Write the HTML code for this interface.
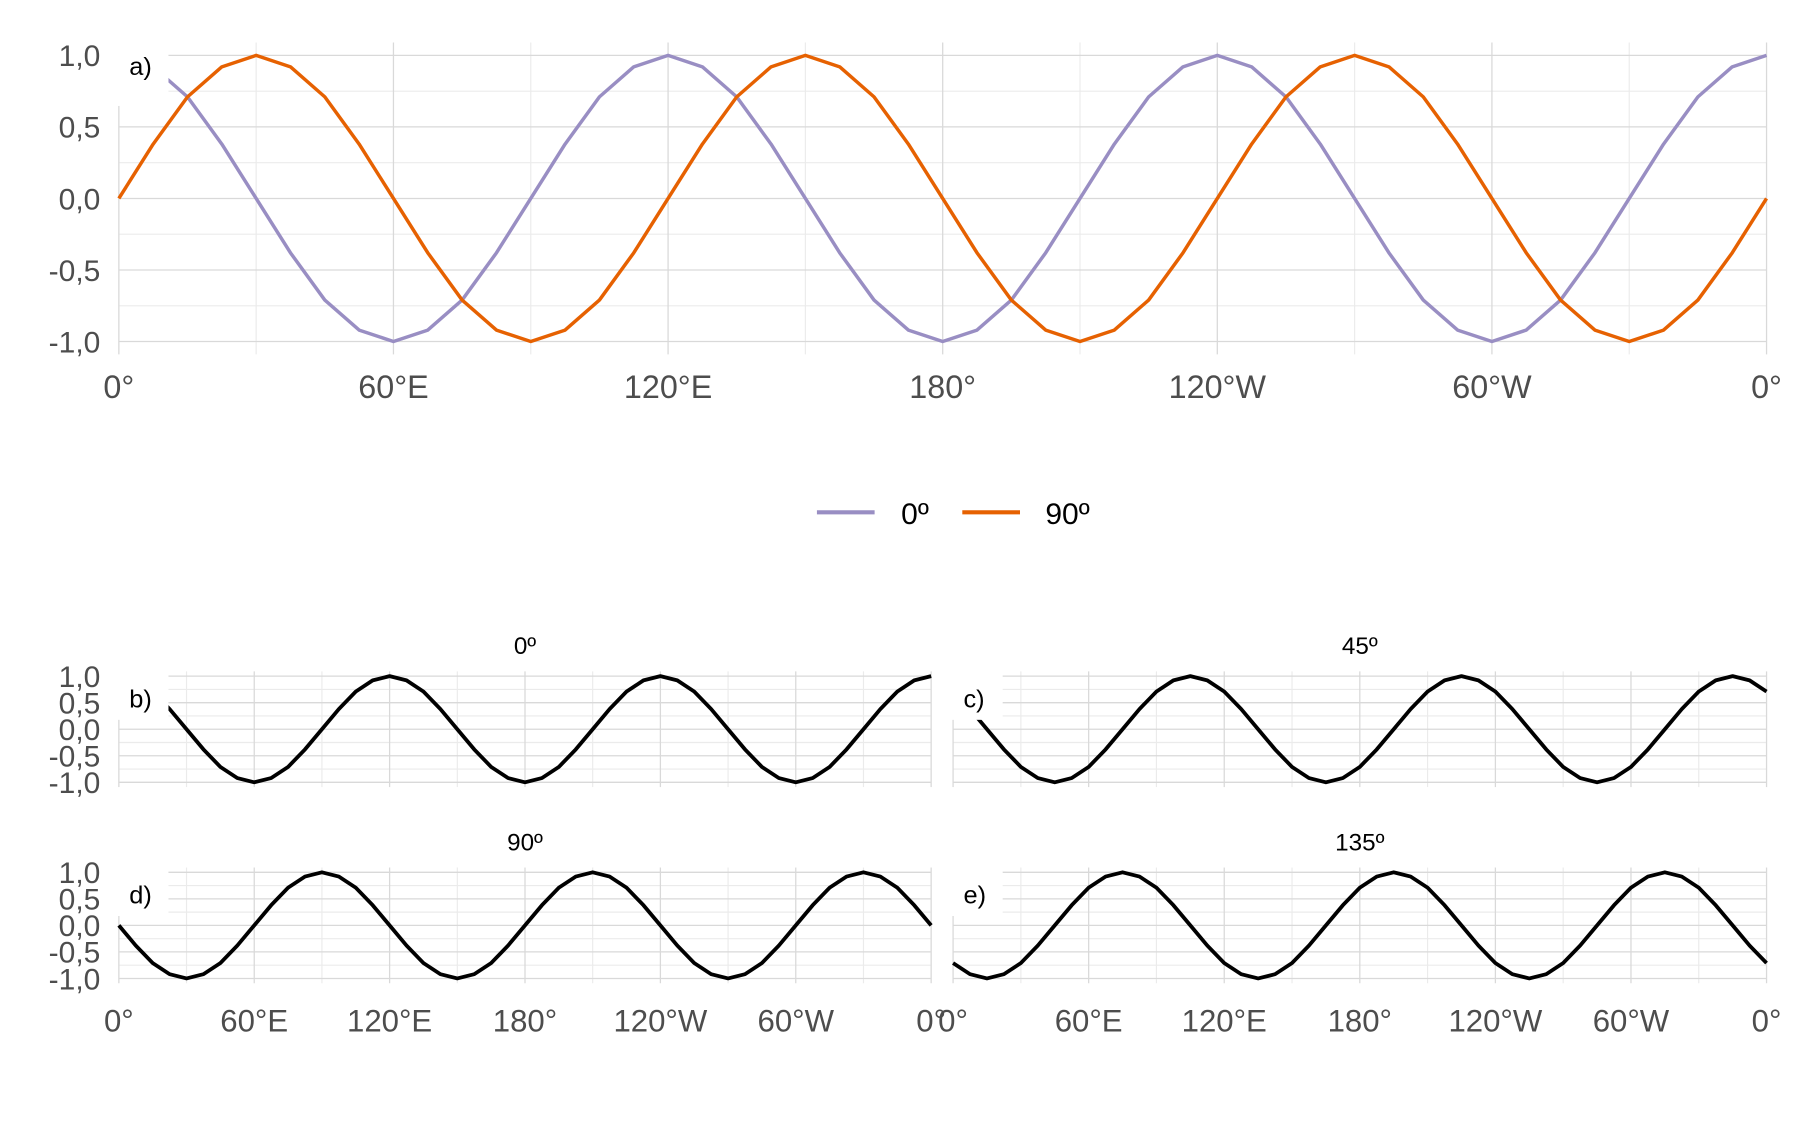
<!DOCTYPE html>
<html><head><meta charset="utf-8"><style>
html,body{margin:0;padding:0;background:#fff;}
svg{display:block;font-family:"Liberation Sans",sans-serif;}
</style></head><body>
<svg id="chart" width="1800" height="1125" viewBox="0 0 1560 975" xmlns="http://www.w3.org/2000/svg"></svg>
<script>
const lons = [0,7.5,15,22.5,30,37.5,45,52.5,60,67.5,75,82.5,90,97.5,105,112.5,120,127.5,135,142.5,150,157.5,165,172.5,180,187.5,195,202.5,210,217.5,225,232.5,240,247.5,255,262.5,270,277.5,285,292.5,300,307.5,315,322.5,330,337.5,345,352.5,360];
const series0 = [1,.92,.71,.38,0,-.38,-.71,-.92,-1,-.92,-.71,-.38,0,.38,.71,.92,1,.92,.71,.38,0,-.38,-.71,-.92,-1,-.92,-.71,-.38,0,.38,.71,.92,1,.92,.71,.38,0,-.38,-.71,-.92,-1,-.92,-.71,-.38,0,.38,.71,.92,1];
const series90 = [0,.38,.71,.92,1,.92,.71,.38,0,-.38,-.71,-.92,-1,-.92,-.71,-.38,0,.38,.71,.92,1,.92,.71,.38,0,-.38,-.71,-.92,-1,-.92,-.71,-.38,0,.38,.71,.92,1,.92,.71,.38,0,-.38,-.71,-.92,-1,-.92,-.71,-.38,0];
const panelB = [1,.92,.71,.38,0,-.38,-.71,-.92,-1,-.92,-.71,-.38,0,.38,.71,.92,1,.92,.71,.38,0,-.38,-.71,-.92,-1,-.92,-.71,-.38,0,.38,.71,.92,1,.92,.71,.38,0,-.38,-.71,-.92,-1,-.92,-.71,-.38,0,.38,.71,.92,1];
const panelC = [.71,.38,0,-.38,-.71,-.92,-1,-.92,-.71,-.38,0,.38,.71,.92,1,.92,.71,.38,0,-.38,-.71,-.92,-1,-.92,-.71,-.38,0,.38,.71,.92,1,.92,.71,.38,0,-.38,-.71,-.92,-1,-.92,-.71,-.38,0,.38,.71,.92,1,.92,.71];
const panelD = [0,-.38,-.71,-.92,-1,-.92,-.71,-.38,0,.38,.71,.92,1,.92,.71,.38,0,-.38,-.71,-.92,-1,-.92,-.71,-.38,0,.38,.71,.92,1,.92,.71,.38,0,-.38,-.71,-.92,-1,-.92,-.71,-.38,0,.38,.71,.92,1,.92,.71,.38,0];
const panelE = [-.71,-.92,-1,-.92,-.71,-.38,0,.38,.71,.92,1,.92,.71,.38,0,-.38,-.71,-.92,-1,-.92,-.71,-.38,0,.38,.71,.92,1,.92,.71,.38,0,-.38,-.71,-.92,-1,-.92,-.71,-.38,0,.38,.71,.92,1,.92,.71,.38,0,-.38,-.71];
const xTickVals = [0,60,120,180,240,300,360];
const xTickLabels = ["0°","60°E","120°E","180°","120°W","60°W","0°"];
const yTickVals = [1,0.5,0,-0.5,-1];
const yTickLabels = ["1,0","0,5","0,0","-0,5","-1,0"];

const svg = document.getElementById('chart');
const NS = 'http://www.w3.org/2000/svg';
function mk(tag, attrs, parent){
  const e = document.createElementNS(NS, tag);
  for (const k in attrs) e.setAttribute(k, attrs[k]);
  (parent||svg).appendChild(e);
  return e;
}

function panel(p){
  const g = mk('g', {});
  
  
  const sx = v => p.x0 + (v/360)*(p.x1-p.x0);
  const sy = v => p.yc - v*(p.yc - p.ytop);
  const top = sy(1.09), bot = sy(-1.09);
  [0.75,0.25,-0.25,-0.75].forEach(v=>{
    const l = mk('line',{x1:p.x0,x2:p.x1,y1:sy(v),y2:sy(v),stroke:'#ebebeb','stroke-width':1},g);
    
    
  });
  [30,90,150,210,270,330].forEach(v=>{
    const l = mk('line',{x1:sx(v),x2:sx(v),y1:top,y2:bot,stroke:'#ebebeb','stroke-width':1},g);
    
    
  });
  yTickVals.forEach((v,i)=>{
    const l = mk('line',{x1:p.x0,x2:p.x1,y1:sy(v),y2:sy(v),stroke:'#d9d9d9','stroke-width':1.1},g);
    
    
    if (p.ylabels){
      const t = mk('text',{x:p.x0-16,y:sy(v)+p.yfs*0.36,'text-anchor':'end','font-size':p.yfs,fill:'#4d4d4d'},g);
      t.textContent = yTickLabels[i];
      
      
    }
  });
  xTickVals.forEach((v,i)=>{
    const l = mk('line',{x1:sx(v),x2:sx(v),y1:top,y2:bot,stroke:'#d9d9d9','stroke-width':1.1},g);
    
    
    if (p.xlabels){
      const t = mk('text',{x:sx(v),y:p.xly,'text-anchor':'middle','font-size':p.xfs,fill:'#4d4d4d'},g);
      t.textContent = xTickLabels[i];
      
      
    }
  });
  p.series.forEach(s=>{
    const d = lons.map((lon,i)=>(i?'L':'M')+sx(lon).toFixed(2)+','+sy(s.vals[i]).toFixed(2)).join('');
    const path = mk('path',{d:d,fill:'none',stroke:s.color,'stroke-width':s.w,'stroke-linejoin':'round'},g);
    
    
  });
  const r = mk('rect',{x:p.x0-3,y:top-3,width:p.boxw,height:p.boxh,fill:'#fff'},g);
  
  
  const t = mk('text',{x:p.x0+9,y:p.tagy,'font-size':22,fill:'#000'},g);
  t.textContent = p.tag;
  
  
  if (p.title){
    const tt = mk('text',{x:(p.x0+p.x1)/2,y:p.titley,'text-anchor':'middle','font-size':21,fill:'#000'},g);
    tt.textContent = p.title;
    
    
  }
}

panel({name:'panel-a',x0:103,x1:1531,yc:172,ytop:48,ylabels:true,yfs:26,xlabels:true,xly:345,xfs:28,
  tag:'a)',tagy:65,boxw:46,boxh:58,
  series:[{name:'line-0deg',vals:series0,color:'#998ec3',w:3},{name:'line-90deg',vals:series90,color:'#e66101',w:3}]});
panel({name:'panel-b',x0:103,x1:807,yc:632,ytop:586,ylabels:true,yfs:26,xlabels:false,
  tag:'b)',tagy:613,boxw:46,boxh:45,title:'0º',titley:567,
  series:[{name:'line-b',vals:panelB,color:'#000',w:3.3}]});
panel({name:'panel-c',x0:826,x1:1531,yc:632,ytop:586,ylabels:false,xlabels:false,
  tag:'c)',tagy:613,boxw:46,boxh:45,title:'45º',titley:567,
  series:[{name:'line-c',vals:panelC,color:'#000',w:3.3}]});
panel({name:'panel-d',x0:103,x1:807,yc:802,ytop:756,ylabels:true,yfs:26,xlabels:true,xly:894,xfs:27,
  tag:'d)',tagy:783,boxw:46,boxh:45,title:'90º',titley:737,
  series:[{name:'line-d',vals:panelD,color:'#000',w:3.3}]});
panel({name:'panel-e',x0:826,x1:1531,yc:802,ytop:756,ylabels:false,xlabels:true,xly:894,xfs:27,
  tag:'e)',tagy:783,boxw:46,boxh:45,title:'135º',titley:737,
  series:[{name:'line-e',vals:panelE,color:'#000',w:3.3}]});

const lg = mk('g',{});


const l1 = mk('line',{x1:708,x2:758,y1:444,y2:444,stroke:'#998ec3','stroke-width':3.5},lg);


const t1 = mk('text',{x:781,y:454,'font-size':26,fill:'#000'},lg);
t1.textContent = '0º';


const l2 = mk('line',{x1:834,x2:884,y1:444,y2:444,stroke:'#e66101','stroke-width':3.5},lg);


const t2 = mk('text',{x:906,y:454,'font-size':26,fill:'#000'},lg);
t2.textContent = '90º';


</script>
</body></html>
